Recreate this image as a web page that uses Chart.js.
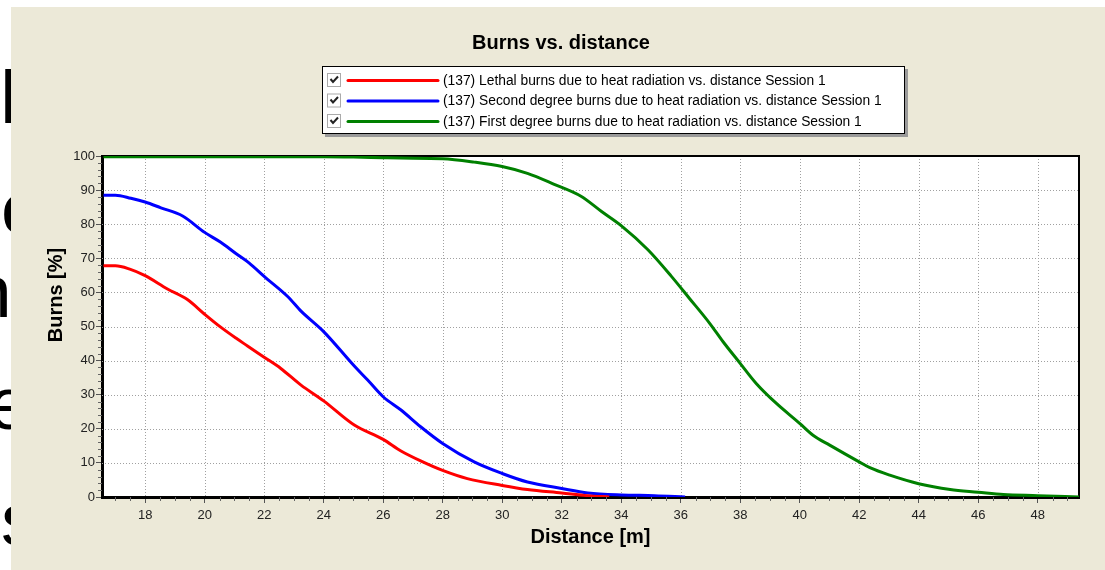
<!DOCTYPE html>
<html>
<head>
<meta charset="utf-8">
<script src="https://cdn.jsdelivr.net/npm/chart.js@4.4.1/dist/chart.umd.min.js"></script>
<style>
  html, body { margin: 0; padding: 0; background: #fff; overflow: hidden; }
  body { width: 1105px; height: 570px; position: relative; font-family: "Liberation Sans", Arial, sans-serif; }
  .glyph { position: absolute; left: 1px; font-size: 75px; line-height: 1; color: #000; }
  #panel { position: absolute; left: 11px; top: 7px; width: 1094px; height: 563px; background: #ECE9D8; z-index: 2; }
</style>
</head>
<body>
<div class="glyph" style="top:60px;left:0px;font-weight:bold">l</div>
<div class="glyph" style="top:171px">o</div>
<div class="glyph" style="top:254px;left:-30px">n</div>
<div class="glyph" style="top:366px;left:-12px">e</div>
<div class="glyph" style="top:482px">s</div>
<div id="panel"><canvas id="chart" width="1094" height="563"></canvas></div>
<script>
// --- Data ---
const chartTitle = 'Burns vs. distance';
const seriesLabels = [
    '(137) Lethal burns due to heat radiation vs. distance Session 1',
    '(137) Second degree burns due to heat radiation vs. distance Session 1',
    '(137) First degree burns due to heat radiation vs. distance Session 1'
];
const lethalX = [16.6, 17.0, 17.46, 18.0, 18.75, 19.42, 20.0, 20.54, 21.05, 21.44, 22.0, 22.56, 23.24, 24.0, 25.03, 26.0, 26.6, 27.26, 28.0, 28.83, 30.0, 30.85, 32.0, 32.88, 33.6];
const lethalY = [67.8, 67.8, 66.9, 64.9, 61.0, 57.9, 53.6, 49.8, 46.6, 44.3, 41.0, 37.7, 32.8, 28.2, 21.1, 16.9, 13.5, 10.6, 7.8, 5.4, 3.4, 2.2, 1.2, 0.4, 0.0];
const secondX = [16.6, 17.0, 17.52, 18.0, 18.53, 19.26, 20.0, 20.54, 21.05, 21.5, 22.0, 22.79, 23.24, 24.0, 25.03, 25.48, 26.0, 26.6, 27.26, 28.0, 29.06, 30.0, 30.85, 32.0, 32.88, 34.0, 35.12, 36.15];
const secondY = [88.5, 88.5, 87.6, 86.5, 84.8, 82.4, 77.6, 74.7, 71.4, 68.6, 64.7, 58.8, 54.5, 48.5, 38.4, 34.3, 29.4, 25.5, 20.6, 15.7, 10.3, 6.9, 4.4, 2.5, 1.2, 0.6, 0.4, 0.0];
const firstX = [16.6, 20.0, 24.0, 25.0, 26.0, 26.58, 28.0, 29.06, 30.0, 30.85, 31.75, 32.65, 33.33, 34.0, 34.9, 35.69, 36.29, 36.97, 37.42, 38.0, 38.54, 39.21, 40.0, 40.45, 41.01, 42.0, 42.36, 43.03, 44.0, 45.06, 46.0, 46.85, 48.0, 49.39];
const firstY = [99.8, 99.8, 99.8, 99.7, 99.5, 99.4, 99.2, 98.2, 96.9, 94.9, 91.7, 88.2, 83.8, 79.6, 72.5, 64.7, 58.3, 51.0, 45.6, 39.2, 33.3, 27.5, 21.6, 18.1, 15.2, 10.3, 8.6, 6.4, 3.9, 2.2, 1.4, 0.7, 0.4, 0.0];
const seriesColors = ['#FF0000', '#0000FF', '#008000'];
const xTicks = [18, 20, 22, 24, 26, 28, 30, 32, 34, 36, 38, 40, 42, 44, 46, 48];
const yTicks = [0, 10, 20, 30, 40, 50, 60, 70, 80, 90, 100];
const xRange = [16.55, 49.39];
const xTitle = 'Distance [m]';
const yTitle = 'Burns [%]';

const toPoints = (xs, ys) => xs.map((x, i) => ({ x: x, y: ys[i] }));

// --- Frame, grid, minor ticks, titles and legend ---
const decor = {
    id: 'decor',
    beforeDraw(chart) {
        const { ctx, chartArea: a } = chart;
        ctx.save();
        ctx.fillStyle = '#fff';
        ctx.fillRect(a.left, a.top, a.right - a.left, a.bottom - a.top);
        ctx.restore();
    },
    beforeDatasetsDraw(chart) {
        const { ctx, chartArea: a, scales } = chart;
        const xs = scales.x, ys = scales.y;
        ctx.save();
        ctx.strokeStyle = '#a0a0a0';
        ctx.lineWidth = 1;
        ctx.setLineDash([1, 2]);
        xTicks.forEach(v => {
            const px = Math.round(xs.getPixelForValue(v)) + 0.5;
            ctx.beginPath(); ctx.moveTo(px, a.top); ctx.lineTo(px, a.bottom); ctx.stroke();
        });
        yTicks.forEach(v => {
            if (v === 0 || v === 100) return;
            const py = Math.round(ys.getPixelForValue(v)) + 0.5;
            ctx.beginPath(); ctx.moveTo(a.left, py); ctx.lineTo(a.right, py); ctx.stroke();
        });
        ctx.setLineDash([]);
        // minor ticks
        ctx.strokeStyle = '#666';
        for (let v = Math.ceil(xRange[0] * 2) / 2; v <= xRange[1]; v += 0.5) {
            if (v % 2 === 0) continue;
            const px = Math.round(xs.getPixelForValue(v)) + 0.5;
            ctx.beginPath(); ctx.moveTo(px, a.bottom); ctx.lineTo(px, a.bottom + 4); ctx.stroke();
        }
        for (let v = 2; v < 100; v += 2) {
            if (v % 10 === 0) continue;
            const py = Math.round(ys.getPixelForValue(v)) + 0.5;
            ctx.beginPath(); ctx.moveTo(a.left - 4, py); ctx.lineTo(a.left, py); ctx.stroke();
        }
        // top and right frame
        ctx.strokeStyle = '#000';
        ctx.lineWidth = 2;
        ctx.beginPath();
        ctx.moveTo(a.left, a.top); ctx.lineTo(a.right, a.top); ctx.lineTo(a.right, a.bottom);
        ctx.stroke();
        ctx.restore();
    },
    afterDraw(chart) {
        const { ctx, chartArea: a } = chart;
        ctx.save();
        ctx.fillStyle = '#000';
        ctx.textAlign = 'center';
        ctx.textBaseline = 'middle';
        ctx.font = 'bold 20px "Liberation Sans", Arial, sans-serif';
        ctx.fillText(chartTitle, chart.width / 2 + 3, 36);
        ctx.fillText(xTitle, (a.left + a.right) / 2, 530);
        ctx.translate(45, 288);
        ctx.rotate(-Math.PI / 2);
        ctx.fillText(yTitle, 0, 0);
        ctx.restore();

        // legend box
        const bx = 311, by = 59, bw = 583, bh = 68;
        ctx.save();
        ctx.fillStyle = '#9a9a9a';
        ctx.fillRect(bx + 3, by + 3, bw, bh);
        ctx.fillStyle = '#fff';
        ctx.fillRect(bx, by, bw, bh);
        ctx.strokeStyle = '#000';
        ctx.lineWidth = 1;
        ctx.strokeRect(bx + 0.5, by + 0.5, bw - 1, bh - 1);
        ctx.font = '13.8px "Liberation Sans", Arial, sans-serif';
        ctx.textBaseline = 'middle';
        chart.data.datasets.forEach((ds, i) => {
            const cy = by + 14 + i * 20.5;
            // checkbox
            ctx.fillStyle = '#fff';
            ctx.fillRect(316, cy - 7, 14, 14);
            ctx.strokeStyle = '#aaa';
            ctx.strokeRect(316.5, cy - 6.5, 13, 13);
            ctx.strokeStyle = '#222';
            ctx.lineWidth = 2;
            ctx.beginPath();
            ctx.moveTo(319.5, cy - 1); ctx.lineTo(322, cy + 2); ctx.lineTo(327, cy - 3.5);
            ctx.stroke();
            ctx.lineWidth = 1;
            // line sample
            ctx.strokeStyle = ds.borderColor;
            ctx.lineWidth = 3;
            ctx.lineCap = 'round';
            ctx.beginPath(); ctx.moveTo(337, cy + 0.5); ctx.lineTo(427, cy + 0.5); ctx.stroke();
            ctx.lineCap = 'butt';
            ctx.lineWidth = 1;
            ctx.fillStyle = '#000';
            ctx.textAlign = 'left';
            ctx.fillText(ds.label, 432, cy + 1);
        });
        ctx.restore();
    }
};

const makeSet = (i, xs, ys) => ({
    label: seriesLabels[i],
    data: toPoints(xs, ys),
    borderColor: seriesColors[i],
    backgroundColor: seriesColors[i],
    borderWidth: 3,
    pointRadius: 0,
    cubicInterpolationMode: 'monotone',
    fill: false
});

new Chart(document.getElementById('chart'), {
    type: 'line',
    data: {
        datasets: [
            makeSet(0, lethalX, lethalY),
            makeSet(1, secondX, secondY),
            makeSet(2, firstX, firstY)
        ]
    },
    options: {
        responsive: false,
        animation: false,
        layout: { padding: { left: 0, top: 149, right: 26, bottom: 0 } },
        plugins: { legend: { display: false }, title: { display: false }, tooltip: { enabled: false } },
        scales: {
            x: {
                type: 'linear',
                min: xRange[0],
                max: xRange[1],
                bounds: 'data',
                afterBuildTicks: s => { s.ticks = xTicks.map(v => ({ value: v })); },
                afterFit: s => { s.height = 73; },
                grid: { drawOnChartArea: false, tickLength: 6, tickColor: '#555' },
                border: { display: true, color: '#000', width: 3 },
                ticks: {
                    padding: 5,
                    color: '#222',
                    font: { family: '"Liberation Sans", Arial, sans-serif', size: 13 },
                    maxRotation: 0,
                    autoSkip: false
                }
            },
            y: {
                min: 0,
                max: 100,
                afterBuildTicks: s => { s.ticks = yTicks.map(v => ({ value: v })); },
                afterFit: s => { s.width = 91; },
                grid: { drawOnChartArea: false, tickLength: 6, tickColor: '#555' },
                border: { display: true, color: '#000', width: 3 },
                ticks: {
                    padding: 1,
                    color: '#222',
                    font: { family: '"Liberation Sans", Arial, sans-serif', size: 13 },
                    autoSkip: false
                }
            }
        }
    },
    plugins: [decor]
});
</script>
</body>
</html>
